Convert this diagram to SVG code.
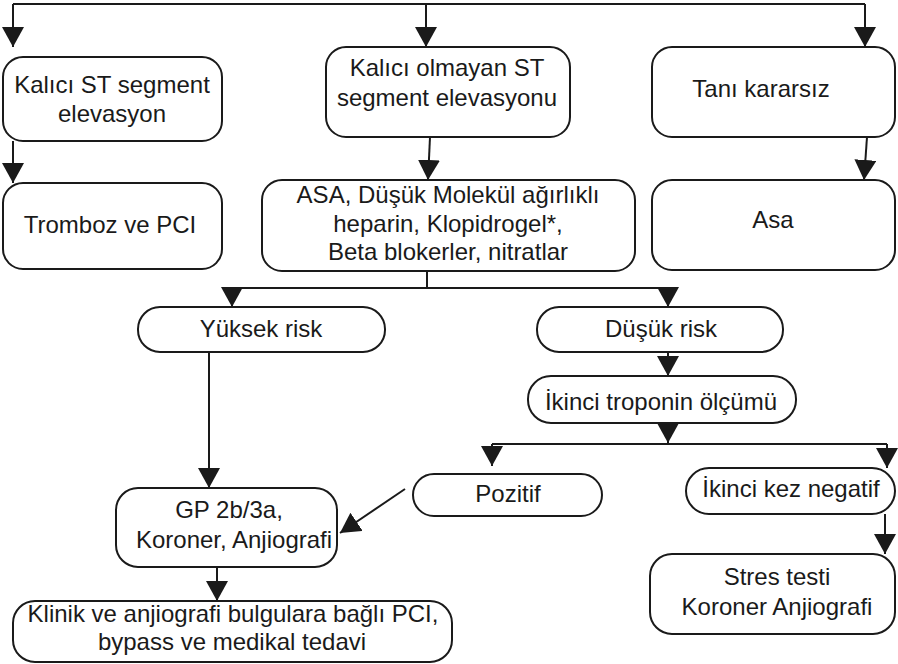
<svg xmlns="http://www.w3.org/2000/svg" width="898" height="664" viewBox="0 0 898 664">
<style>
.box{fill:#fff;stroke:#1a1a1a;stroke-width:2}
.t{font-family:"Liberation Sans",Arial,sans-serif;font-size:24px;fill:#1a1a1a;text-anchor:middle}
.c{fill:none;stroke:#1a1a1a;stroke-width:2}
</style>
<defs>
<marker id="ah" markerUnits="userSpaceOnUse" markerWidth="22" markerHeight="24" refX="20" refY="11" orient="auto">
<path d="M0,0 L20,11 L0,22 z" fill="#1a1a1a"/>
</marker>
</defs>
<rect width="898" height="664" fill="#fff"/>
<g id="connectors">
<path class="c" d="M13,4 H865"/>
<path class="c" d="M13,4 V47" marker-end="url(#ah)"/>
<path class="c" d="M426,4 V47" marker-end="url(#ah)"/>
<path class="c" d="M865,4 V47" marker-end="url(#ah)"/>
<path class="c" d="M13,141 V183" marker-end="url(#ah)"/>
<path class="c" d="M430,137 L428,180" marker-end="url(#ah)"/>
<path class="c" d="M867,137 L864,180" marker-end="url(#ah)"/>
<path class="c" d="M427,271 V288"/>
<path class="c" d="M232,288 H668"/>
<path class="c" d="M232,288 V307" marker-end="url(#ah)"/>
<path class="c" d="M668,288 V307" marker-end="url(#ah)"/>
<path class="c" d="M209,352 V488" marker-end="url(#ah)"/>
<path class="c" d="M668,352 V376" marker-end="url(#ah)"/>
<path class="c" d="M668,423 V443" marker-end="url(#ah)"/>
<path class="c" d="M492,444 H887"/>
<path class="c" d="M492,444 V466" marker-end="url(#ah)"/>
<path class="c" d="M887,444 V468" marker-end="url(#ah)"/>
<path class="c" d="M885,514 V554" marker-end="url(#ah)"/>
<path class="c" d="M405,489 L340,533" marker-end="url(#ah)"/>
<path class="c" d="M217,567 V601" marker-end="url(#ah)"/>
</g>
<g id="n1"><rect class="box" x="3" y="57" width="219" height="84" rx="20"/>
<text class="t" x="112" y="93">Kalıcı ST segment</text><text class="t" x="112" y="122">elevasyon</text></g>
<g id="n2"><rect class="box" x="326" y="47" width="244" height="90" rx="20"/>
<text class="t" x="447" y="76">Kalıcı olmayan ST</text><text class="t" x="447" y="106">segment elevasyonu</text></g>
<g id="n3"><rect class="box" x="652" y="47" width="243" height="90" rx="20"/>
<text class="t" x="761" y="97">Tanı kararsız</text></g>
<g id="n4"><rect class="box" x="3" y="183" width="219" height="86" rx="20"/>
<text class="t" x="110" y="233">Tromboz ve PCI</text></g>
<g id="n5"><rect class="box" x="262" y="180" width="373" height="91" rx="20"/>
<text class="t" x="448" y="203">ASA, Düşük Molekül ağırlıklı</text>
<text class="t" x="448" y="232">heparin, Klopidrogel*,</text>
<text class="t" x="448" y="260">Beta blokerler, nitratlar</text></g>
<g id="n6"><rect class="box" x="652" y="180" width="243" height="90" rx="20"/>
<text class="t" x="773" y="228">Asa</text></g>
<g id="n7"><rect class="box" x="138" y="307" width="247" height="45" rx="22"/>
<text class="t" x="261" y="337">Yüksek risk</text></g>
<g id="n8"><rect class="box" x="537" y="307" width="246" height="45" rx="22"/>
<text class="t" x="661" y="337">Düşük risk</text></g>
<g id="n9"><rect class="box" x="528" y="376" width="268" height="47" rx="23"/>
<text class="t" x="661" y="410">İkinci troponin ölçümü</text></g>
<g id="n10"><rect class="box" x="413" y="474" width="189" height="42" rx="21"/>
<text class="t" x="508" y="502">Pozitif</text></g>
<g id="n11"><rect class="box" x="686" y="468" width="209" height="46" rx="23"/>
<text class="t" x="791" y="497">İkinci kez negatif</text></g>
<g id="n12"><rect class="box" x="116" y="488" width="221" height="79" rx="22"/>
<text class="t" x="229" y="518">GP 2b/3a,</text><text class="t" x="234" y="548">Koroner, Anjiografi</text></g>
<g id="n13"><rect class="box" x="650" y="554" width="245" height="80" rx="22"/>
<text class="t" x="777" y="585">Stres testi</text><text class="t" x="777" y="615">Koroner Anjiografi</text></g>
<g id="n14"><rect class="box" x="13" y="601" width="439" height="61" rx="22"/>
<text class="t" x="233" y="622">Klinik ve anjiografi bulgulara bağlı PCI,</text>
<text class="t" x="232" y="650">bypass ve medikal tedavi</text></g>
</svg>
